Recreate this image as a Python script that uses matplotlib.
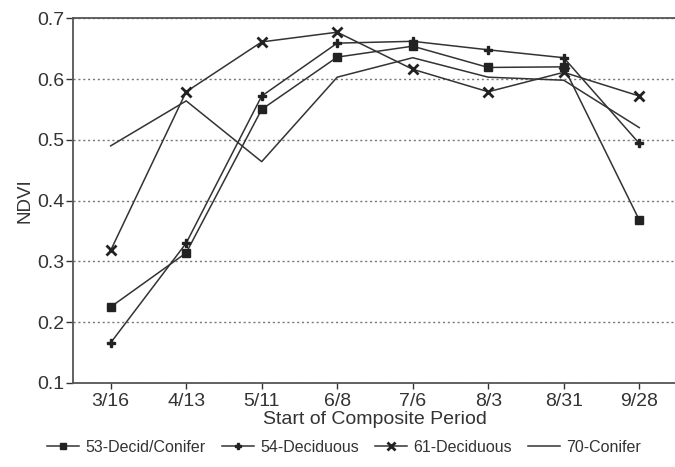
import numpy as np
import matplotlib.pyplot as plt

plt.rcParams['font.family'] = ['Liberation Sans', 'DejaVu Sans']

periods = ["3/16", "4/13", "5/11", "6/8", "7/6", "8/3", "8/31", "9/28"]
decid_conifer_53 = [0.225, 0.314, 0.550, 0.636, 0.654, 0.619, 0.620, 0.368]
deciduous_54 = [0.166, 0.330, 0.572, 0.659, 0.662, 0.648, 0.635, 0.494]
deciduous_61 = [0.318, 0.579, 0.661, 0.677, 0.616, 0.579, 0.611, 0.572]
conifer_70 = [0.490, 0.564, 0.464, 0.603, 0.635, 0.603, 0.598, 0.520]

line_col = "#333333"
x = np.arange(len(periods))

fig = plt.figure(figsize=(6.75, 4.67), dpi=100)
ax = fig.add_axes([0.108, 0.180, 0.895, 0.781])

ax.plot(x, decid_conifer_53, color=line_col, lw=1.1, marker="s", ms=5.5,
        mfc="#222222", mec="#222222", label="53-Decid/Conifer")
ax.plot(x, deciduous_54, color=line_col, lw=1.1, marker="P", ms=5.5,
        mfc="#222222", mec="#222222", label="54-Deciduous")
ax.plot(x, deciduous_61, color=line_col, lw=1.1, marker="x", ms=7, mew=2.0,
        mec="#222222", label="61-Deciduous")
ax.plot(x, conifer_70, color=line_col, lw=1.1, label="70-Conifer")

ax.set_xlim(-0.5, 7.5)
ax.set_ylim(0.1, 0.7)
ax.set_yticks([0.1, 0.2, 0.3, 0.4, 0.5, 0.6, 0.7])
ax.set_yticklabels(["0.1", "0.2", "0.3", "0.4", "0.5", "0.6", "0.7"])
ax.set_xticks(x)
ax.set_xticklabels(periods)
ax.yaxis.grid(True, linestyle=(0, (1.5, 2)), color="#777777", lw=1.0)
ax.set_axisbelow(True)

for side in ["left", "bottom", "top"]:
    ax.spines[side].set_color("#555555")
    ax.spines[side].set_linewidth(1.3)
ax.spines["right"].set_visible(False)
ax.tick_params(axis="both", labelsize=14, colors="#333333", length=4,
               width=1.0, pad=3)
ax.tick_params(axis="y", length=5, pad=1)

ax.set_ylabel("NDVI", fontsize=13.5, color="#333333", labelpad=3)
ax.set_xlabel("Start of Composite Period", fontsize=14, color="#333333",
              labelpad=1)

fig.legend(loc="center", bbox_to_anchor=(0.51, 0.042), ncol=4,
           frameon=False, fontsize=11.5, handlelength=2.0, handletextpad=0.4,
           columnspacing=1.0, labelcolor="#333333", markerscale=0.8)

fig.savefig("out.png", dpi=100)
